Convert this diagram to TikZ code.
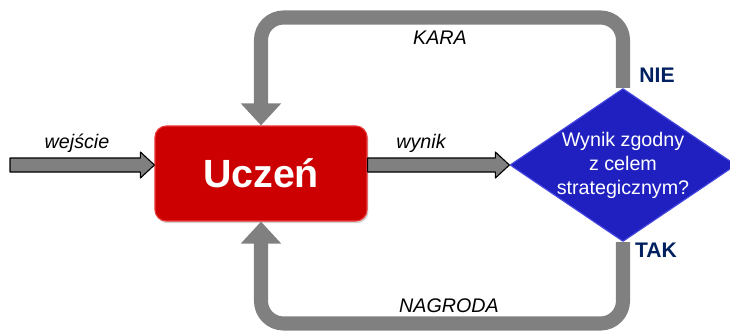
\documentclass[tikz,border=0pt]{standalone}
\usepackage{fontspec}
\setmainfont{Liberation Sans}
\usetikzlibrary{shapes.geometric,arrows.meta,shadows,calc}
\definecolor{uczred}{RGB}{204,0,0}
\definecolor{uczedge}{RGB}{235,60,60}
\definecolor{decblue}{RGB}{32,32,192}
\definecolor{decedge}{RGB}{70,70,225}
\definecolor{navy}{RGB}{0,32,96}
\definecolor{arrgray}{RGB}{128,128,128}
% gray block arrow with black outline, from #1 to the tip #2
\newcommand{\blockarrow}[2]{%
  \draw[blockarr] ($(#1)+(0,-7)$) -- ($(#2)+(-14,-7)$) -- ($(#2)+(-14,-13)$) -- (#2)
    -- ($(#2)+(-14,13)$) -- ($(#2)+(-14,7)$) -- ($(#1)+(0,7)$) -- cycle;}
\begin{document}
\begin{tikzpicture}[x=0.025cm,y=-0.025cm,line join=round,
    learnerbox/.style={rectangle,rounded corners=8pt,fill=uczred,draw=uczedge,line width=0.8pt,
      minimum width=150.8pt,minimum height=67.6pt,text=white,
      font=\fontsize{28}{30}\selectfont\bfseries,
      drop shadow={opacity=0.35,shadow xshift=1pt,shadow yshift=-1.5pt}},
    decision/.style={diamond,aspect=1.48,fill=decblue,draw=decedge,line width=0.8pt,
      minimum width=160.8pt,minimum height=108.8pt,inner sep=-4pt,
      text=white,align=center,font=\fontsize{14}{17}\selectfont},
    feedback/.style={draw=arrgray,line width=10pt,rounded corners=16pt,
      -{Triangle[width=27.7pt,length=15.6pt]}},
    blockarr/.style={draw=black,fill=arrgray,line width=0.8pt},
    lbl/.style={font=\fontsize{14}{16}\selectfont\itshape},
    answer/.style={text=navy,font=\fontsize{15}{17}\selectfont\bfseries}]
  \useasboundingbox (0,0) rectangle (730,331);
  \node[learnerbox] (learner) at (261,173.5) {Uczeń};
  \node[decision] (goal) at (623,165) {Wynik zgodny\\z celem\\strategicznym?};
  % wejscie / wynik
  \coordinate (in) at (10,165);
  \coordinate (intip) at (learner.west |- in);
  \coordinate (outstart) at (learner.east |- goal.west);
  \blockarrow{in}{intip}
  \blockarrow{outstart}{goal.west}
  % KARA / NAGRODA
  \draw[feedback] (goal.north) -- (goal.north |- 0,17.5) -| (learner.north);
  \draw[feedback] (goal.south) -- (goal.south |- 0,323.5) -| (learner.south);
  \node[lbl] (inlbl) at (77,143) {wejście};
  \node[lbl] (outlbl) at (421,143) {wynik};
  \node[lbl] (punish) at (440,38) {KARA};
  \node[lbl] (reward) at (449,306) {NAGRODA};
  \node[answer] (no) at (657,75) {NIE};
  \node[answer] (yes) at (656,250) {TAK};
\end{tikzpicture}
\end{document}
